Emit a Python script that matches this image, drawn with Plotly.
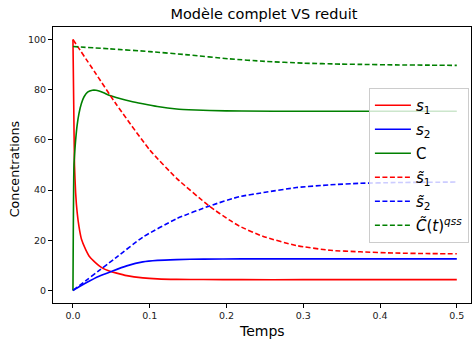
import plotly.graph_objects as go

# ---- data ----
t_s1 = [0, 0.001, 0.002, 0.0035, 0.0055, 0.0078, 0.011, 0.0166, 0.022, 0.0296, 0.036,
        0.0426, 0.05, 0.0557, 0.07, 0.091, 0.11, 0.135, 0.17, 0.22, 0.3, 0.4, 0.5]
s1 = [100, 74, 50, 38.8, 31, 25.5, 20.5, 16.3, 13.3, 11.0, 9.4,
      8.3, 7.5, 7.0, 5.9, 5.0, 4.6, 4.4, 4.35, 4.3, 4.3, 4.3, 4.3]

t_s2 = [0, 0.008, 0.0166, 0.034, 0.05, 0.07, 0.091, 0.11, 0.135, 0.17, 0.22, 0.3, 0.5]
s2 = [0, 1.5, 3.0, 5.7, 7.6, 9.8, 11.4, 12.0, 12.3, 12.5, 12.6, 12.6, 12.6]

t_c = [0, 0.0013, 0.0025, 0.0035, 0.0055, 0.0078, 0.011, 0.0143, 0.019, 0.0253, 0.03,
       0.034, 0.04, 0.047, 0.061, 0.075, 0.091, 0.11, 0.135, 0.16, 0.178, 0.22, 0.3, 0.5]
c = [0, 50, 56, 60, 66, 70.5, 74.5, 77.1, 79, 79.8, 79.8,
     79.5, 78.8, 77.8, 76.5, 75.4, 74.4, 73.3, 72.3, 71.9, 71.7, 71.5, 71.4, 71.4]

t_s1t = [0, 0.03, 0.0557, 0.1, 0.135, 0.178, 0.204, 0.217, 0.248, 0.291, 0.335, 0.374, 0.42, 0.46, 0.5]
s1t = [100, 86.3, 74.5, 56, 44.7, 33.5, 28, 25.6, 21.5, 17.9, 16.0, 15.4, 14.9, 14.7, 14.6]

t_s2t = [0, 0.0557, 0.0913, 0.135, 0.178, 0.217, 0.248, 0.291, 0.335, 0.374, 0.42, 0.46, 0.5]
s2t = [0, 13.0, 21.3, 28.6, 33.7, 37.4, 39.0, 41.0, 42.1, 42.7, 43.0, 43.1, 43.2]

t_ct = [0, 0.048, 0.1, 0.15, 0.204, 0.25, 0.3, 0.35, 0.374, 0.42, 0.46, 0.5]
ct = [97.2, 96.3, 95.2, 93.9, 92.3, 91.3, 90.6, 90.2, 90.1, 89.9, 89.8, 89.7]

x_ticks = [0.0, 0.1, 0.2, 0.3, 0.4, 0.5]
y_ticks = [0, 20, 40, 60, 80, 100]

labels = ["<i>s</i><sub>1</sub>", "<i>s</i><sub>2</sub>", "C",
          "<i>s\u0303</i><sub>1</sub>", "<i>s\u0303</i><sub>2</sub>",
          "<i>C\u0303</i>(<i>t</i>)<sup><i>qss</i></sup>"]

series = [
    (t_s1, s1, "red", "solid"),
    (t_s2, s2, "blue", "solid"),
    (t_c, c, "green", "solid"),
    (t_s1t, s1t, "red", "5px,2.5px"),
    (t_s2t, s2t, "blue", "5px,2.5px"),
    (t_ct, ct, "green", "5px,2.5px"),
]

fig = go.Figure()
for i, ((tx, ty, col, dash), lab) in enumerate(zip(series, labels)):
    fig.add_trace(go.Scatter(x=tx, y=ty, mode="lines", name=lab, legendgroup=f"g{i}",
                             line=dict(color=col, width=1.6, dash=dash,
                                       shape="spline", smoothing=0.5)))

axis_common = dict(showgrid=False, zeroline=False, showline=True, linecolor="black",
                   linewidth=1, mirror=True, ticks="outside", ticklen=4,
                   tickcolor="black", tickfont=dict(size=9.5, color="#222"),
                   automargin=False)

fig.update_layout(
    width=473, height=339,
    margin=dict(l=53, r=2, t=27, b=36),
    paper_bgcolor="white", plot_bgcolor="white",
    font=dict(family="DejaVu Sans", color="black"),
    title=dict(text="Modèle complet VS reduit", x=0.558, xanchor="center",
               y=0.958, yanchor="middle", font=dict(size=14.5)),
    xaxis=dict(range=[-0.026, 0.5185], tickvals=x_ticks,
               ticktext=[f"{v:.1f}" for v in x_ticks], **axis_common),
    yaxis=dict(range=[-5, 105], tickvals=y_ticks, **axis_common),
    legend=dict(x=0.995, y=0.779, xanchor="right", yanchor="top",
                bgcolor="rgba(255,255,255,0.8)", bordercolor="#cccccc", borderwidth=1,
                font=dict(size=15), itemwidth=36, tracegroupgap=1.5),
    showlegend=True,
    annotations=[
        dict(text="Temps", xref="paper", yref="paper", x=0.5, y=-0.102,
             xanchor="center", yanchor="middle", showarrow=False,
             font=dict(size=14)),
        dict(text="Concentrations", xref="paper", yref="paper", x=-0.093, y=0.485,
             xanchor="center", yanchor="middle", showarrow=False, textangle=-90,
             font=dict(size=12.7)),
    ],
)

fig.write_html("out.html", config={"displayModeBar": False},
               post_script="document.body.style.margin='0';document.body.style.overflow='hidden';")
